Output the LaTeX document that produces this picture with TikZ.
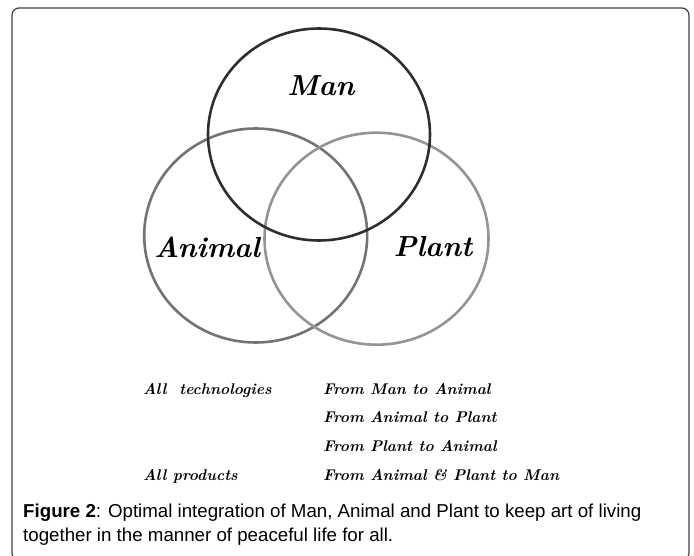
\documentclass[tikz,border=0pt]{standalone}
\usepackage{fontspec}
\newfontfamily\capfont{Liberation Sans}

\begin{document}
\begin{tikzpicture}[x=1pt,y=-1pt,
    setname/.style={font=\fontsize{29}{31}\selectfont\bfseries\itshape, inner sep=0pt},
    flowtext/.style={font=\fontsize{15.5}{18}\selectfont\bfseries\itshape, anchor=base west, inner sep=0pt},
    ring/.style={line width=2.6pt}]

  \useasboundingbox (0,0) rectangle (694,556);

  % Frame
  \draw[black!75, line width=1.2pt, rounded corners=7pt] (12,8) rectangle (689,560);

  % Circles
  \draw[ring, black!55] (255.7,235.5) ellipse [x radius=111.5pt, y radius=107pt];
  \draw[ring, black!42] (376.5,238.7) ellipse [x radius=112pt, y radius=106pt];
  \draw[ring, black!82] (319,134.5) ellipse [x radius=111pt, y radius=106pt];

  % Set names
  \node[setname] (man) at (321,86) {Man};
  \node[setname] (animal) at (207,247) {Animal};
  \node[setname] (plant) at (433,247) {Plant};

  % Flows
  \foreach \t [count=\i from 0] in {From Man to Animal, From Animal to Plant, From Plant to Animal, From Animal \& Plant to Man}
      \node[flowtext] (flow\i) at (323,394+28.7*\i) {\t};
  \node[flowtext] (tech) at (143,394) {All\ \ technologies};
  \node[flowtext] (prod) at (143,480) {All products};

  % Caption
  \node[font=\capfont\fontsize{18.7}{24}\selectfont, anchor=north west, align=left, inner sep=0pt] (caption) at (23,504)
    {\textbf{Figure 2}: Optimal integration of Man, Animal and Plant to keep art of living\\
     together in the manner of peaceful life for all.};

\end{tikzpicture}
\end{document}
